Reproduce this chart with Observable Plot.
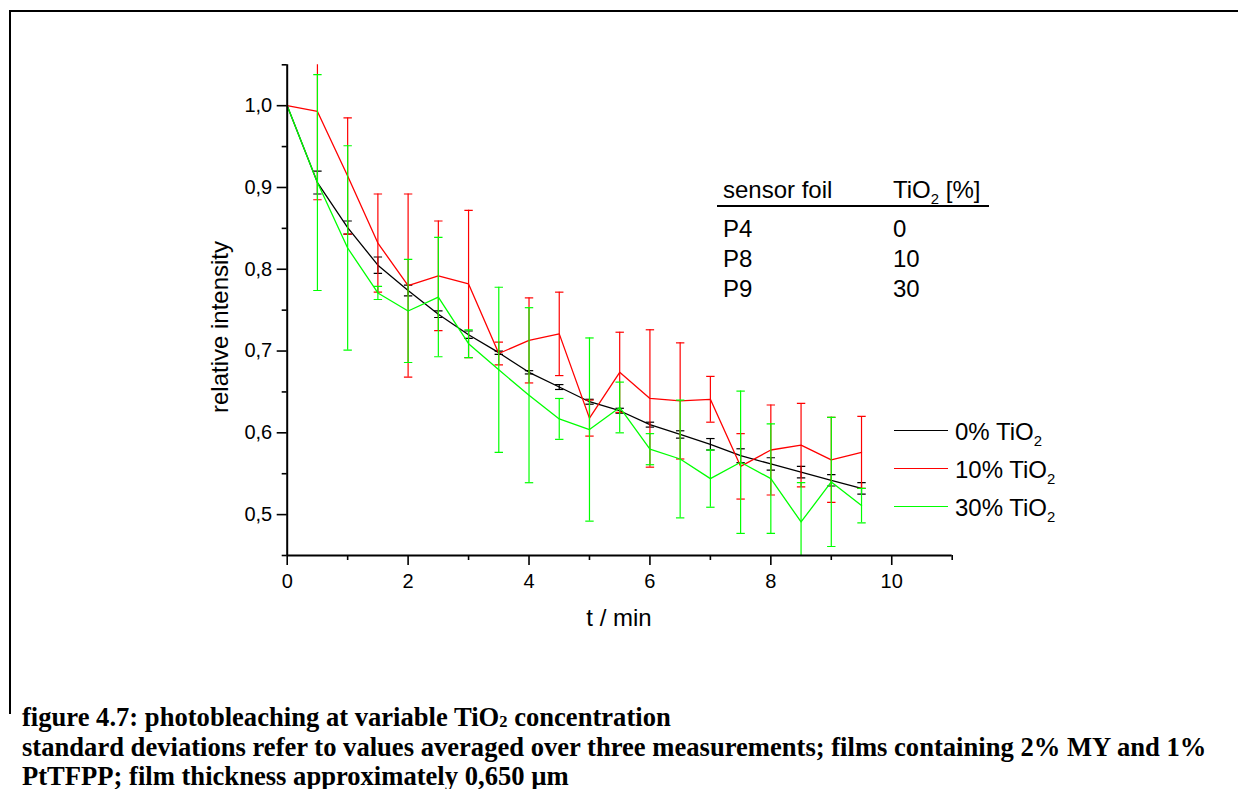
<!DOCTYPE html>
<html>
<head>
<meta charset="utf-8">
<script src="https://cdn.jsdelivr.net/npm/d3@7"></script>
<script src="https://cdn.jsdelivr.net/npm/@observablehq/plot@0.6"></script>
<style>
  html, body { margin: 0; padding: 0; background: #fff; overflow: hidden; }
  body { width: 1238px; height: 789px; position: relative; font-family: "Liberation Sans", Arial, sans-serif; color: #000; }
  #frame { position: absolute; left: 9px; top: 10px; width: 1260px; height: 702px; border-left: 2px solid #000; border-top: 2px solid #000; }
  #chart { position: absolute; left: 0; top: 0; }
  .abs { position: absolute; white-space: nowrap; line-height: 1; }
  sub { font-size: 0.62em; vertical-align: -0.4em; line-height: 0; }
  #ylab { left: 220px; top: 327px; font-size: 24px; transform: translate(-50%, -50%) rotate(-90deg); }
  #xlab { left: 619px; top: 618px; font-size: 24px; transform: translate(-50%, -50%); }
  .tbl { font-size: 24px; transform: translateY(-50%); }
  #uline { position: absolute; left: 717px; top: 205px; width: 272px; height: 0; border-top: 2px solid #000; }
  .leg { font-size: 24px; transform: translateY(-50%); }
  .legline { position: absolute; width: 54px; height: 0; }
  .cap { position: absolute; left: 22px; font-family: "Liberation Serif", "Times New Roman", serif; font-weight: bold; font-size: 26.6px; line-height: 1; white-space: nowrap; transform: translateY(-50%); }
  .cap sub { font-size: 0.62em; vertical-align: -0.1em; }
</style>
</head>
<body>
<div id="frame"></div>
<div id="chart"></div>
<div id="ylab" class="abs">relative intensity</div>
<div id="xlab" class="abs">t / min</div>

<div class="abs tbl" style="left:723px; top:190px;">sensor foil</div>
<div class="abs tbl" style="left:893px; top:190px;">TiO<sub>2</sub> [%]</div>
<div id="uline"></div>
<div class="abs tbl" style="left:723px; top:229px;">P4</div>
<div class="abs tbl" style="left:893px; top:229px;">0</div>
<div class="abs tbl" style="left:723px; top:259px;">P8</div>
<div class="abs tbl" style="left:893px; top:259px;">10</div>
<div class="abs tbl" style="left:723px; top:289px;">P9</div>
<div class="abs tbl" style="left:893px; top:289px;">30</div>

<div class="legline" style="left:894px; top:430px; border-top:1.3px solid #000;"></div>
<div class="legline" style="left:894px; top:468px; border-top:1.3px solid #ff0000;"></div>
<div class="legline" style="left:894px; top:506px; border-top:1.3px solid #00ff00;"></div>
<div class="abs leg" style="left:955px; top:432px;">0% TiO<sub>2</sub></div>
<div class="abs leg" style="left:955px; top:470px;">10% TiO<sub>2</sub></div>
<div class="abs leg" style="left:955px; top:508px;">30% TiO<sub>2</sub></div>

<div class="cap" style="top:717px;">figure 4.7: photobleaching at variable TiO<sub>2</sub> concentration</div>
<div class="cap" style="top:747px;">standard deviations refer to values averaged over three measurements; films containing 2% MY and 1%</div>
<div class="cap" style="top:776px;">PtTFPP; film thickness approximately 0,650 µm</div>

<script>
// time points (min)
const times = [0, 0.5, 1, 1.5, 2, 2.5, 3, 3.5, 4, 4.5, 5, 5.5, 6, 6.5, 7, 7.5, 8, 8.5, 9, 9.5];

// 0% TiO2 (P4)
const p4Values = [1.000, 0.906, 0.851, 0.805, 0.774, 0.745, 0.720, 0.698, 0.674, 0.656, 0.638, 0.627, 0.610, 0.598, 0.586, 0.572, 0.562, 0.552, 0.542, 0.532];
const p4Errors = [0, 0.014, 0.008, 0.010, 0.0065, 0.004, 0.0045, 0.002, 0.002, 0.003, 0.003, 0.003, 0.003, 0.0045, 0.007, 0.0085, 0.0075, 0.007, 0.007, 0.007];

// 10% TiO2 (P8)
const p8Values = [1.000, 0.993, 0.914, 0.832, 0.780, 0.792, 0.782, 0.697, 0.713, 0.721, 0.618, 0.674, 0.642, 0.639, 0.641, 0.559, 0.579, 0.585, 0.567, 0.576];
const p8Errors = [0, 0.108, 0.071, 0.060, 0.112, 0.067, 0.090, 0.014, 0.052, 0.051, 0.022, 0.049, 0.084, 0.071, 0.028, 0.040, 0.055, 0.051, 0.052, 0.044];

// 30% TiO2 (P9)
const p9Values = [1.000, 0.906, 0.826, 0.771, 0.749, 0.766, 0.709, 0.677, 0.646, 0.617, 0.604, 0.631, 0.580, 0.568, 0.544, 0.564, 0.544, 0.491, 0.540, 0.511];
const p9Errors = [0, 0.132, 0.125, 0.008, 0.063, 0.073, 0.017, 0.101, 0.107, 0.025, 0.112, 0.031, 0.019, 0.072, 0.035, 0.087, 0.067, 0.048, 0.079, 0.021];

const seriesNames = ["0% TiO2", "10% TiO2", "30% TiO2"];
const seriesColors = ["#000000", "#ff0000", "#00ff00"];

const yMajor = [0.5, 0.6, 0.7, 0.8, 0.9, 1.0];
const yMinor = [0.45, 0.55, 0.65, 0.75, 0.85, 0.95, 1.05];
const xMajor = [0, 2, 4, 6, 8, 10];
const xMinor = [1, 3, 5, 7, 9, 11];

const allValues = [p4Values, p8Values, p9Values];
const allErrors = [p4Errors, p8Errors, p9Errors];

const capSymbol = {
  draw(context, size) {
    const w = Math.sqrt(size / Math.PI);
    context.moveTo(-w, 0);
    context.lineTo(w, 0);
  }
};

const marks = [];
allValues.forEach((vals, si) => {
  const rows = times.map((t, i) => ({t, v: vals[i], e: allErrors[si][i]}));
  const errRows = rows.filter(d => d.e > 0);
  const color = seriesColors[si];
  marks.push(
    Plot.ruleX(errRows, {x: "t", y1: d => d.v - d.e, y2: d => d.v + d.e, stroke: color, strokeWidth: 1.2, clip: true}),
    Plot.dot(errRows, {x: "t", y: d => d.v + d.e, symbol: capSymbol, r: 4.2, stroke: color, fill: "none", strokeWidth: 1.2, clip: true}),
    Plot.dot(errRows, {x: "t", y: d => d.v - d.e, symbol: capSymbol, r: 4.2, stroke: color, fill: "none", strokeWidth: 1.2, clip: true}),
    Plot.line(rows, {x: "t", y: "v", stroke: color, strokeWidth: 1.3})
  );
});

const chart = Plot.plot({
  width: 1238,
  height: 700,
  marginLeft: 286.7,
  marginRight: 286.3,
  marginTop: 64.3,
  marginBottom: 145,
  style: {fontFamily: "Liberation Sans, Arial, sans-serif", fontSize: "20px", color: "#000", background: "transparent"},
  x: {domain: [0, 11]},
  y: {domain: [0.45, 1.05]},
  marks: [
    Plot.axisY(yMajor, {tickSize: 10, tickPadding: 5, strokeWidth: 1.6, fontSize: 20, tickFormat: d => d.toFixed(1).replace(".", ","), label: null}),
    Plot.axisY(yMinor, {tickSize: 5, strokeWidth: 1.6, tickFormat: () => "", label: null}),
    Plot.axisX(xMajor, {tickSize: 10, tickPadding: 8, strokeWidth: 1.6, fontSize: 20, tickFormat: d => String(d), label: null}),
    Plot.axisX(xMinor, {tickSize: 5, strokeWidth: 1.6, tickFormat: () => "", label: null}),
    ...marks,
    Plot.ruleX([0], {stroke: "#000", strokeWidth: 2}),
    Plot.ruleY([0.45], {stroke: "#000", strokeWidth: 2})
  ]
});
document.getElementById("chart").appendChild(chart);
</script>
</body>
</html>
